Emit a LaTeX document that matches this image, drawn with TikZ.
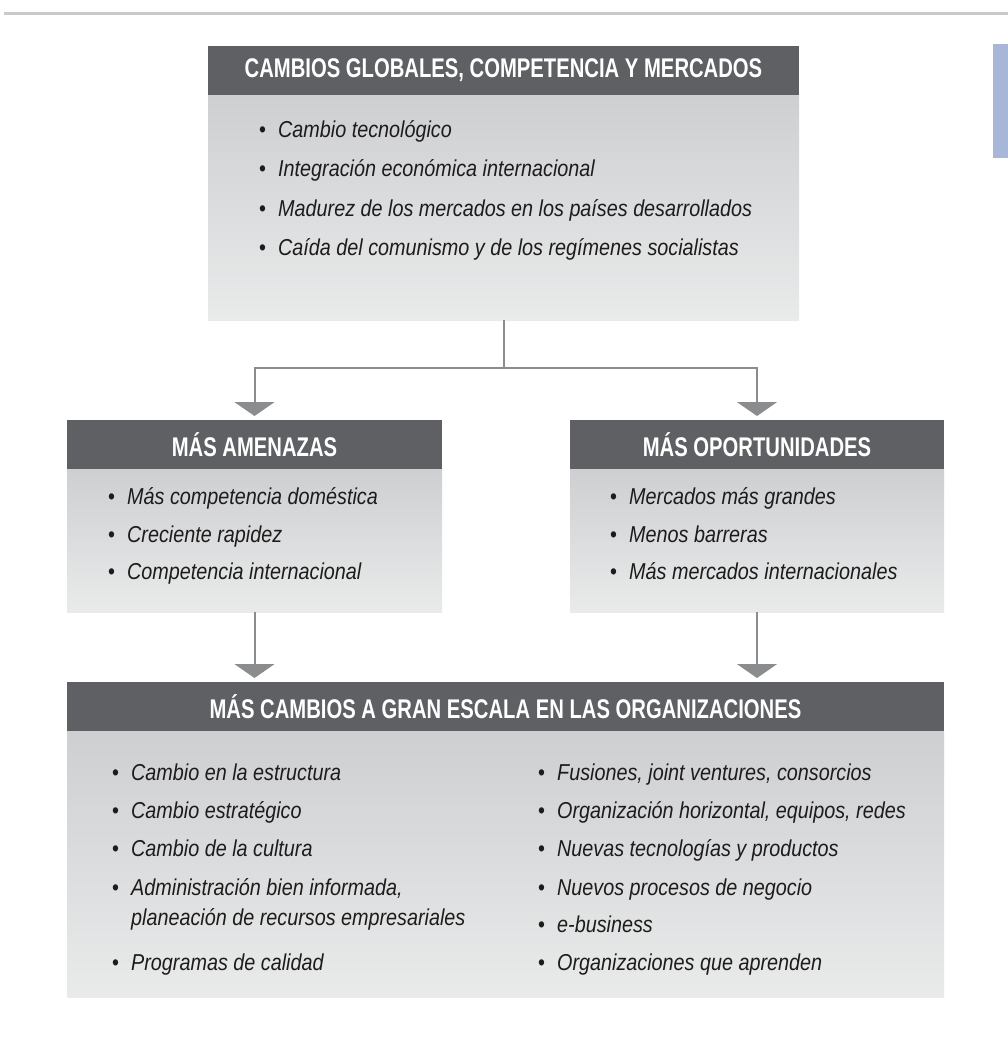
\documentclass[tikz,border=0pt]{standalone}
\usepackage{fontspec}
\usepackage{tikz}
\usetikzlibrary{positioning, arrows.meta}
\newfontfamily\hdrfont{Liberation Sans}[FakeStretch=0.75]
\newfontfamily\itmfont{Liberation Sans}[FakeStretch=0.86]
\definecolor{hdrgray}{HTML}{5F6064}
\definecolor{bodytop}{HTML}{CECFD1}
\definecolor{bodybot}{HTML}{E9EAEA}
\definecolor{conngray}{HTML}{8B8C8E}
\definecolor{rulegray}{HTML}{C9C9C9}
\definecolor{tabblue}{HTML}{A8B6D8}
\definecolor{itmcol}{HTML}{1E1B1C}
\newcommand{\itm}[1]{\makebox[19pt][l]{\upshape\textbullet}#1}

\begin{document}
\begin{tikzpicture}[x=1pt, y=-1pt,
    hdr/.style={fill=hdrgray, text=white, font=\hdrfont\fontsize{27}{30}\selectfont\bfseries,
        minimum height=49pt, inner sep=0pt, outer sep=0pt, anchor=north west},
    bodybox/.style={top color=bodytop, bottom color=bodybot, inner sep=0pt, outer sep=0pt},
    item/.style={anchor=base west, inner sep=0pt, text=itmcol,
        font=\itmfont\fontsize{23}{27}\selectfont\itshape},
    conn/.style={draw=conngray, line width=2pt, -{Triangle[width=40pt,length=14pt]}, shorten >=4pt}]
    \useasboundingbox (0,0) rectangle (1008,1045);

    % Rule and tab
    \fill[rulegray] (4,11.5) rectangle (1008,14.5);
    \fill[tabblue] (993,44) rectangle (1008,158);

    % Top box
    \node[hdr, minimum width=591pt] (globHdr) at (208,46) {CAMBIOS GLOBALES, COMPETENCIA Y MERCADOS};
    \node[bodybox, minimum width=591pt, minimum height=225pt, below=0pt of globHdr] (globBody) {};
    \node[item] (g1) at (259,137) {\itm{Cambio tecnológico}};
    \node[item] (g2) at (259,176) {\itm{Integración económica internacional}};
    \node[item] (g3) at (259,216) {\itm{Madurez de los mercados en los países desarrollados}};
    \node[item] (g4) at (259,255) {\itm{Caída del comunismo y de los regímenes socialistas}};

    % Threats
    \node[hdr, minimum width=375pt] (amenHdr) at (67,420) {MÁS AMENAZAS};
    \node[bodybox, minimum width=375pt, minimum height=143pt, below=0pt of amenHdr] (amenBody) {};
    \node[item] (a1) at (108,504) {\itm{Más competencia doméstica}};
    \node[item] (a2) at (108,542) {\itm{Creciente rapidez}};
    \node[item] (a3) at (108,579) {\itm{Competencia internacional}};

    % Opportunities
    \node[hdr, minimum width=374pt] (oporHdr) at (570,420) {MÁS OPORTUNIDADES};
    \node[bodybox, minimum width=374pt, minimum height=143pt, below=0pt of oporHdr] (oporBody) {};
    \node[item] (o1) at (610,504) {\itm{Mercados más grandes}};
    \node[item] (o2) at (610,542) {\itm{Menos barreras}};
    \node[item] (o3) at (610,579) {\itm{Más mercados internacionales}};

    % Organizations
    \node[hdr, minimum width=877pt] (orgHdr) at (67,682) {MÁS CAMBIOS A GRAN ESCALA EN LAS ORGANIZACIONES};
    \node[bodybox, minimum width=877pt, minimum height=266pt, below=0pt of orgHdr] (orgBody) {};
    \node[item] (l1) at (112,780) {\itm{Cambio en la estructura}};
    \node[item] (l2) at (112,818) {\itm{Cambio estratégico}};
    \node[item] (l3) at (112,856) {\itm{Cambio de la cultura}};
    \node[item] (l4) at (112,895) {\itm{Administración bien informada,}};
    \node[item] (l4b) at (131,925) {planeación de recursos empresariales};
    \node[item] (l5) at (112,970) {\itm{Programas de calidad}};
    \node[item] (r1) at (538,780) {\itm{Fusiones, joint ventures, consorcios}};
    \node[item] (r2) at (538,818) {\itm{Organización horizontal, equipos, redes}};
    \node[item] (r3) at (538,856) {\itm{Nuevas tecnologías y productos}};
    \node[item] (r4) at (538,895) {\itm{Nuevos procesos de negocio}};
    \node[item] (r5) at (538,932) {\itm{e-business}};
    \node[item] (r6) at (538,970) {\itm{Organizaciones que aprenden}};

    % Connectors
    \coordinate (split) at ([yshift=-48pt]globBody.south);
    \draw[conn] (globBody.south) -- (split) -| (amenHdr.north);
    \draw[conn] (split) -| (oporHdr.north);
    \draw[conn] (amenBody.south) -- (amenBody.south |- orgHdr.north);
    \draw[conn] (oporBody.south) -- (oporBody.south |- orgHdr.north);
\end{tikzpicture}
\end{document}
